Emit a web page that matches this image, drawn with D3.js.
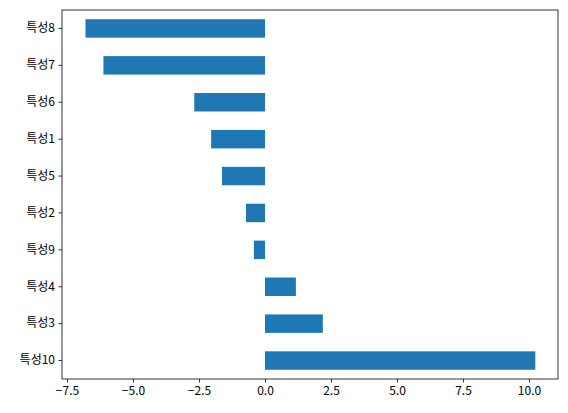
<!DOCTYPE html>
<html><head><meta charset="utf-8">
<script src="https://cdn.jsdelivr.net/npm/d3@7"></script>
<style>body{margin:0;background:#fff}</style>
</head><body>
<svg id="chart" width="568" height="413"></svg>
<script>
// categories top to bottom
var categories = ['특성8', '특성7', '특성6', '특성1', '특성5', '특성2', '특성9', '특성4', '특성3', '특성10'];
var values = [-6.8, -6.12, -2.68, -2.04, -1.63, -0.72, -0.42, 1.17, 2.19, 10.24];
var xTicks = [-7.5, -5.0, -2.5, 0.0, 2.5, 5.0, 7.5, 10.0];

var svg = d3.select('#chart'),
    m = {left: 62, right: 10, top: 10, bottom: 34},
    w = 568 - m.left - m.right,
    h = 413 - m.top - m.bottom;

var x = d3.scaleLinear().domain([-7.69, 11.1]).range([0, w]);
var y = d3.scaleBand().domain(categories).range([0, h]).paddingInner(0.5).paddingOuter(0.25);

var g = svg.append('g').attr('transform', 'translate(' + m.left + ',' + m.top + ')');

g.selectAll('rect').data(values).enter().append('rect')
  .attr('x', function(d) { return x(Math.min(0, d)); })
  .attr('width', function(d) { return Math.abs(x(d) - x(0)); })
  .attr('y', function(d, i) { return y(categories[i]); })
  .attr('height', y.bandwidth())
  .attr('fill', '#1f77b4');

var font = "'Noto Sans CJK KR', 'DejaVu Sans', sans-serif";

var xa = g.append('g').attr('transform', 'translate(0,' + h + ')')
  .call(d3.axisBottom(x).tickValues(xTicks).tickFormat(d3.format('.1f')).tickSize(3.5).tickPadding(3.5));
var ya = g.append('g').call(d3.axisLeft(y).tickSize(3.5).tickPadding(3.5));

[xa, ya].forEach(function(a) {
  a.select('.domain').remove();
  a.selectAll('line').attr('stroke', '#000').attr('stroke-width', 0.8);
  a.selectAll('text').attr('fill', '#000').style('font-family', font).style('font-size', '12px');
});

g.append('rect').attr('width', w).attr('height', h)
  .attr('fill', 'none').attr('stroke', '#000').attr('stroke-width', 0.8);
</script>
</body></html>
